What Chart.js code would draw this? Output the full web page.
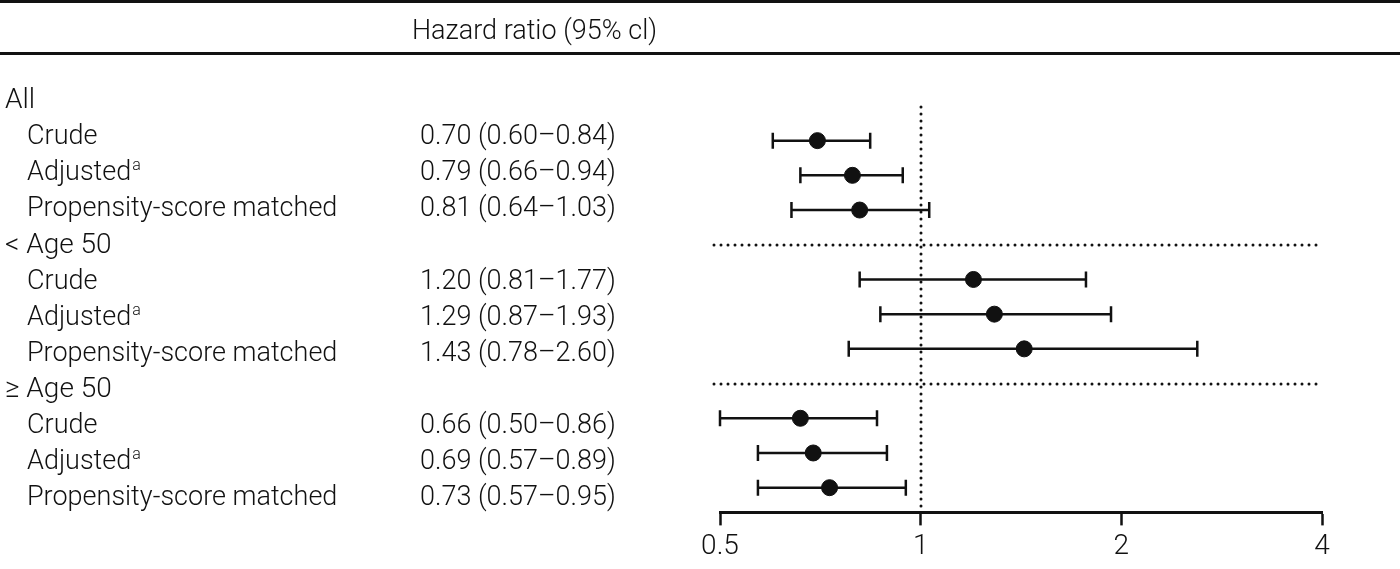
<!DOCTYPE html>
<html>
<head>
<meta charset="utf-8">
<script src="https://cdn.jsdelivr.net/npm/chart.js@4"></script>
<style>
  html, body { margin: 0; padding: 0; background: #fff; }
  canvas { display: block; }
</style>
</head>
<body>
<canvas id="forest" width="1400" height="569"></canvas>
<script>
// Data
const groups = ['All', '< Age 50', '≥ Age 50'];
const methods = ['Crude', 'Adjusted', 'Propensity-score matched'];
const hr    = [0.70, 0.79, 0.81, 1.20, 1.29, 1.43, 0.66, 0.69, 0.73];
const lower = [0.60, 0.66, 0.64, 0.81, 0.87, 0.78, 0.50, 0.57, 0.57];
const upper = [0.84, 0.94, 1.03, 1.77, 1.93, 2.60, 0.86, 0.89, 0.95];
const xTicks = [0.5, 1, 2, 4];
const headerText = 'Hazard ratio (95% cl)';

const FONT = 'Roboto';
const INK = '#111';

// row index of each estimate (group heading takes one row)
const rowOf = k => Math.floor(k / 3) * 4 + (k % 3) + 1;
const fmt = v => v.toFixed(2);

// Text, rules and dotted lines
const forestDecor = {
  id: 'forestDecor',
  beforeDatasetsDraw(chart) {
    const ctx = chart.ctx;
    const area = chart.chartArea;
    const x = chart.scales.x;
    const y = chart.scales.y;
    ctx.save();
    ctx.strokeStyle = INK;
    ctx.lineWidth = 3;
    ctx.lineCap = 'round';
    ctx.setLineDash([0, 7]);

    // reference line at HR = 1
    const x1 = Math.round(x.getPixelForValue(1));
    ctx.beginPath();
    ctx.moveTo(x1, area.top);
    ctx.lineTo(x1, area.bottom);
    ctx.stroke();

    // separators between groups
    for (let g = 1; g < groups.length; g++) {
      const yy = Math.round(y.getPixelForValue(g * 4));
      ctx.beginPath();
      ctx.moveTo(area.left - 6, yy);
      ctx.lineTo(area.right, yy);
      ctx.stroke();
    }
    ctx.setLineDash([]);

    // confidence intervals
    ctx.lineWidth = 2.5;
    ctx.lineCap = 'butt';
    hr.forEach((v, k) => {
      const yy = y.getPixelForValue(rowOf(k));
      const xl = x.getPixelForValue(lower[k]);
      const xh = x.getPixelForValue(upper[k]);
      ctx.beginPath();
      ctx.moveTo(xl, yy);
      ctx.lineTo(xh, yy);
      ctx.moveTo(xl, yy - 8);
      ctx.lineTo(xl, yy + 8);
      ctx.moveTo(xh, yy - 8);
      ctx.lineTo(xh, yy + 8);
      ctx.stroke();
    });
    ctx.restore();
  },
  afterDraw(chart) {
    const ctx = chart.ctx;
    const yt = chart.scales.yText;
    ctx.save();
    ctx.fillStyle = INK;

    // top rules
    ctx.fillRect(0, 0, chart.width, 3);
    ctx.fillRect(0, 52, chart.width, 3);

    ctx.textBaseline = 'middle';
    ctx.textAlign = 'left';
    ctx.font = `300 27px ${FONT}`;
    ctx.fillText(headerText, 412, 32);

    groups.forEach((g, gi) => {
      ctx.font = `300 28px ${FONT}`;
      ctx.fillText(g, 5, yt.getPixelForValue(gi * 4) + 3);
    });

    hr.forEach((v, k) => {
      const yy = yt.getPixelForValue(rowOf(k)) + 3;
      const name = methods[k % 3];
      ctx.font = `300 27px ${FONT}`;
      ctx.fillText(name, 27, yy);
      if (name === 'Adjusted') {
        const w = ctx.measureText(name).width;
        ctx.font = `300 16px ${FONT}`;
        ctx.fillText('a', 27 + w + 1, yy - 7);
        ctx.font = `300 27px ${FONT}`;
      }
      ctx.fillText(`${fmt(v)} (${fmt(lower[k])}–${fmt(upper[k])})`, 420, yy);
    });
    ctx.restore();
  }
};

new Chart(document.getElementById('forest'), {
  type: 'scatter',
  data: {
    datasets: [{
      data: hr.map((v, k) => ({ x: v, y: rowOf(k) })),
      backgroundColor: INK,
      borderColor: INK,
      pointRadius: 8,
      pointHoverRadius: 8
    }]
  },
  options: {
    responsive: false,
    animation: false,
    devicePixelRatio: 1,
    layout: { padding: { left: 720, right: 78, top: 107, bottom: 0 } },
    plugins: {
      legend: { display: false },
      tooltip: { enabled: false }
    },
    scales: {
      x: {
        type: 'logarithmic',
        min: 0.5,
        max: 4,
        afterBuildTicks: scale => {
          scale.ticks = xTicks.map(v => ({ value: v }));
        },
        ticks: {
          color: INK,
          font: { family: FONT, size: 28, weight: 300 },
          padding: 5,
          maxRotation: 0,
          autoSkip: false,
          callback: v => String(v)
        },
        grid: {
          drawOnChartArea: false,
          drawTicks: true,
          tickLength: 13,
          tickWidth: 2.5,
          tickColor: INK
        },
        border: { display: true, color: INK, width: 3 }
      },
      y: {
        type: 'linear',
        reverse: true,
        min: 0.031,
        max: 11.712,
        display: false
      },
      yText: {
        type: 'linear',
        reverse: true,
        min: 0.246,
        max: 11.465,
        display: false
      }
    }
  },
  plugins: [forestDecor]
});
</script>
</body>
</html>
